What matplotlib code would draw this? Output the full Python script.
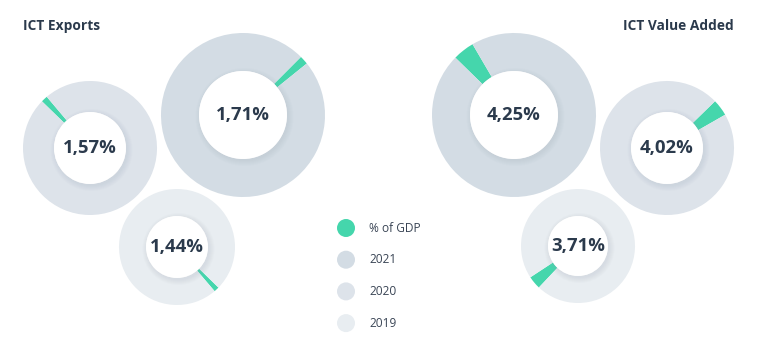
import matplotlib.pyplot as plt
from matplotlib.patches import Circle

plt.rcParams['font.family'] = ['Open Sans', 'DejaVu Sans']

years = ['2021', '2020', '2019']
exports = [1.71, 1.57, 1.44]
value_added = [4.25, 4.02, 3.71]

green = '#45d6ac'
ring_colors = ['#d3dce4', '#dde3ea', '#e8edf1']
dark = '#2b3a4c'

W, H = 770, 354

# layout in pixels (x, y from top), outer radius, inner radius, angle of green wedge
exp_layout = [(243, 115, 82, 44, 42), (90, 148, 67, 36, 133), (177, 247, 58, 31, -47)]
va_layout = [(514, 115, 82, 44, 128), (667, 148, 67, 36, 37), (578, 246, 57, 30, 220)]

fig = plt.figure(figsize=(W / 100, H / 100), dpi=100)
ax = fig.add_axes([0, 0, 1, 1])


def donut(val, cx, cy, r_out, r_in, mid, col):
    cy = H - cy
    start = mid - val * 3.6 / 2
    ax.pie([val, 100 - val], colors=[green, col], startangle=start,
           center=(cx, cy), radius=r_out,
           wedgeprops=dict(width=r_out - r_in, linewidth=0))
    # soft shadow round the hole
    for k in range(6):
        ax.add_patch(Circle((cx + 1.5, cy - 2), r_in + 5 - k, color='#9aa6b3',
                            alpha=0.035, lw=0, zorder=3))
    ax.add_patch(Circle((cx, cy), r_in, color='white', lw=0, zorder=4))
    ax.text(cx, cy, f'{val:.2f}%'.replace('.', ','), ha='center', va='center',
            fontsize=13.3, fontweight='bold', color=dark, zorder=5)


for v, lay, col in zip(exports, exp_layout, ring_colors):
    donut(v, *lay, col)
for v, lay, col in zip(value_added, va_layout, ring_colors):
    donut(v, *lay, col)

ax.text(23, H - 26, 'ICT Exports', ha='left', va='center', fontsize=9.9,
        fontweight='bold', color=dark)
ax.text(734, H - 26, 'ICT Value Added', ha='right', va='center', fontsize=9.9,
        fontweight='bold', color=dark)

# legend
legend_labels = ['% of GDP'] + years
legend_colors = [green] + ring_colors
for i, (lab, c) in enumerate(zip(legend_labels, legend_colors)):
    y = H - (228 + i * 31.7)
    ax.add_patch(Circle((346, y), 9, color=c, lw=0))
    ax.text(369, y, lab, ha='left', va='center', fontsize=8.6, color='#3a4555')

ax.set_xlim(0, W)
ax.set_ylim(0, H)
ax.set_aspect('equal')
ax.axis('off')

fig.savefig('out.png', dpi=100, facecolor='white')
